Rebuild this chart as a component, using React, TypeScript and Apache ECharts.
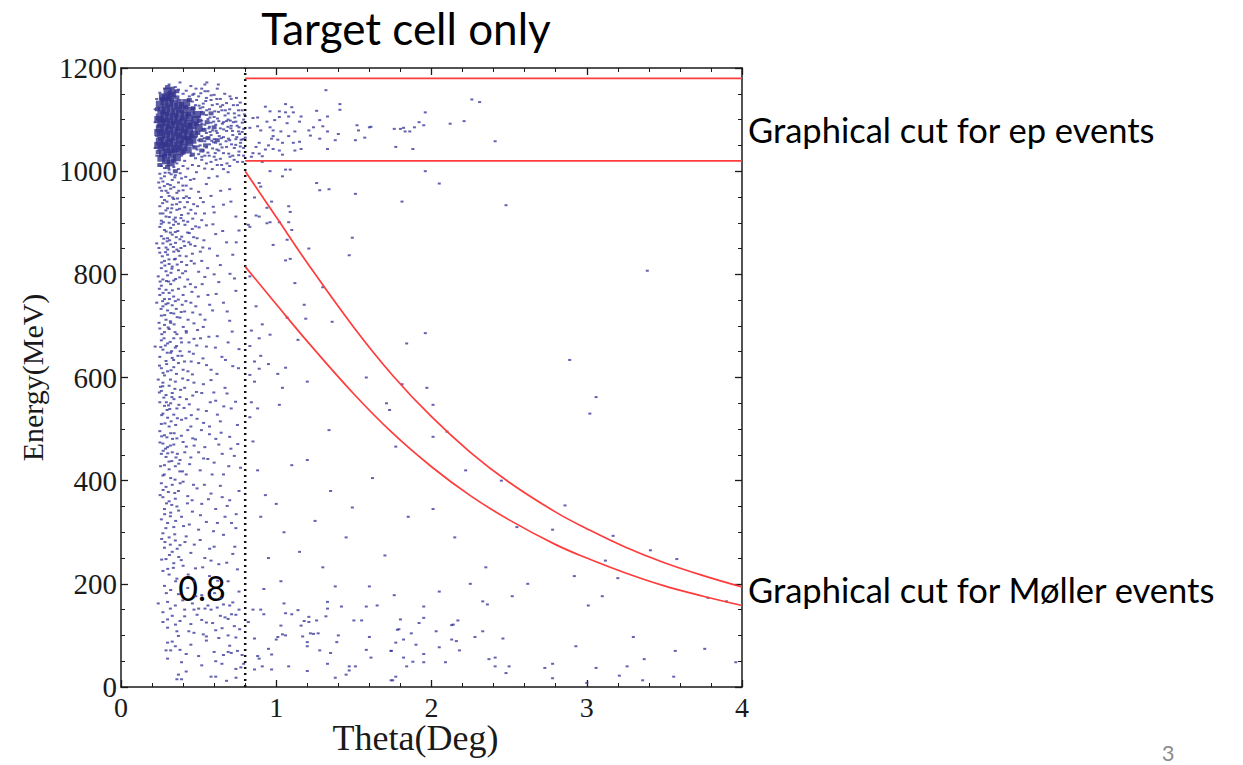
import React, { useEffect, useRef } from "react";
import * as echarts from "echarts";

// ---- data ----
const thetaCut = 0.8;
const epCutLow = 1020;
const epCutHigh = 1180;
const cutTheta = [0.8, 1.0, 1.2, 1.5, 1.75, 2.0, 2.25, 2.5, 2.8, 3.0, 3.25, 3.5, 3.75, 4.0];
const mollerUpper = [1000, 911, 822, 697, 604, 524, 455, 397, 339, 307, 271, 241, 216, 194];
const mollerLower = [815, 742, 670, 568, 492, 427, 371, 324, 276, 250, 221, 196, 176, 158];

const coreCluster: number[][] = [
  [0.25,1130],[0.28,1135],[0.31,1128],[0.34,1132],[0.37,1126],[0.40,1120],[0.26,1118],[0.29,1122],[0.32,1115],[0.35,1119],[0.38,1112],[0.41,1108],[0.44,1104],
  [0.25,1105],[0.28,1108],[0.31,1102],[0.34,1106],[0.37,1099],[0.40,1095],[0.43,1092],[0.46,1088],[0.26,1094],[0.29,1096],[0.32,1090],[0.35,1093],[0.38,1086],
  [0.41,1082],[0.44,1079],[0.25,1082],[0.28,1084],[0.31,1078],[0.34,1080],[0.37,1074],[0.40,1070],[0.43,1067],[0.47,1072],[0.26,1070],[0.29,1072],[0.32,1066],
  [0.35,1068],[0.38,1062],[0.41,1058],[0.44,1055],[0.25,1058],[0.28,1060],[0.31,1054],[0.34,1056],[0.37,1050],[0.40,1046],[0.26,1046],[0.29,1048],[0.32,1042],
  [0.35,1044],[0.38,1038],[0.27,1034],[0.30,1036],[0.33,1031],[0.36,1026],[0.29,1142],[0.32,1147],[0.30,1155],[0.33,1150],[0.27,1144],[0.42,1133],[0.45,1118],
  [0.48,1100],[0.24,1100],[0.24,1075],[0.24,1050],[0.26,1025],[0.29,1020],[0.32,1016],[0.43,1041],[0.46,1060],[0.50,1085],[0.49,1110]
];

const coreFringe: number[][] = [
  [0.235,1120],[0.245,1088],[0.255,1062],[0.265,1140],[0.275,1098],[0.285,1052],[0.295,1112],[0.305,1086],[0.315,1060],[0.325,1138],[0.335,1094],[0.345,1040],
  [0.355,1108],[0.365,1082],[0.375,1136],[0.385,1056],[0.395,1102],[0.405,1078],[0.415,1124],[0.425,1064],[0.435,1110],[0.445,1090],[0.455,1068],[0.465,1122],
  [0.475,1046],[0.485,1092],[0.495,1074],[0.505,1098],[0.515,1060],[0.525,1112],[0.535,1080],[0.545,1050],[0.555,1095],[0.27,1115],[0.31,1140],[0.36,1143],
  [0.39,1130],[0.44,1138],[0.33,1160],[0.30,1163],[0.36,1155],[0.28,1030],[0.34,1020],[0.40,1036],[0.46,1032],[0.52,1040],[0.56,1064],[0.58,1112],[0.60,1085],
  [0.62,1060],[0.24,1037],[0.25,1012],[0.30,1008],[0.35,1000]
];

const haloCluster: number[][] = [
  [0.46,1135],[0.48,1128],[0.51,1122],[0.53,1131],[0.47,1112],[0.50,1106],[0.52,1115],[0.55,1109],[0.57,1120],[0.49,1094],[0.52,1098],[0.54,1090],[0.56,1101],
  [0.58,1094],[0.60,1105],[0.51,1078],[0.53,1082],[0.55,1074],[0.57,1086],[0.59,1079],[0.61,1090],[0.63,1097],[0.48,1066],[0.50,1060],[0.52,1068],[0.54,1058],
  [0.56,1065],[0.58,1070],[0.60,1062],[0.62,1074],[0.64,1083],[0.47,1048],[0.49,1042],[0.51,1050],[0.53,1040],[0.55,1046],[0.57,1052],[0.59,1044],[0.61,1055],
  [0.45,1030],[0.48,1025],[0.50,1033],[0.52,1022],[0.54,1030],[0.56,1036],[0.44,1145],[0.40,1150],[0.37,1158],[0.35,1163],[0.31,1168],[0.28,1160],[0.25,1152],
  [0.23,1140],[0.22,1120],[0.22,1095],[0.23,1068],[0.22,1045],[0.23,1030],[0.42,1156],[0.47,1150],[0.50,1145],[0.55,1142],[0.58,1138],[0.62,1130],[0.65,1118],
  [0.67,1108],[0.66,1095],[0.69,1100],[0.71,1088],[0.68,1078],[0.72,1070],[0.66,1066],[0.70,1060],[0.64,1052],[0.68,1047],[0.63,1040],[0.66,1035],[0.60,1028],
  [0.64,1024],[0.58,1018],[0.62,1012],[0.55,1015],[0.50,1010],[0.46,1012],[0.43,1005],[0.40,1010],[0.37,1004],[0.34,1008],[0.31,1003],[0.28,1006],[0.26,1010],
  [0.74,1096],[0.76,1085],[0.78,1076],[0.74,1062],[0.77,1055],[0.73,1045],[0.76,1038],[0.79,1030],[0.72,1030],[0.70,1120],[0.73,1112],[0.76,1108],[0.78,1118],
  [0.68,1132],[0.64,1140],[0.60,1148],[0.56,1155],[0.52,1160],[0.45,1165],[0.38,1172],[0.54,1168],[0.62,1160],[0.71,1140],[0.75,1128],[0.79,1100],[0.80,1065],
  [0.75,1018],[0.70,1010],[0.66,1004],[0.79,1045],[0.43,1124],[0.46,1097],[0.45,1076],[0.42,1047],[0.39,1030],[0.41,1020],[0.36,1015],[0.33,1022],[0.30,1027],
  [0.462,1148],[0.487,1138],[0.514,1151],[0.527,1124],[0.546,1136],[0.573,1104],[0.588,1128],[0.604,1116],[0.622,1102],[0.641,1125],[0.653,1092],[0.672,1118],
  [0.689,1086],[0.704,1098],[0.718,1078],[0.733,1104],[0.748,1088],[0.764,1072],[0.781,1094],[0.574,1076],[0.596,1056],[0.618,1042],[0.633,1068],[0.651,1046],
  [0.677,1058],[0.694,1034],[0.712,1052],[0.729,1022],[0.746,1066],[0.768,1048],[0.784,1018],[0.612,1022],[0.683,1015],[0.539,1005],[0.588,1004],[0.627,1168],
  [0.553,1172],[0.483,1160],[0.668,1150],[0.702,1145],[0.744,1142],[0.768,1133],
  [0.503,1127],[0.521,1092],[0.537,1064],[0.552,1118],[0.566,1083],[0.584,1059],[0.597,1096],[0.613,1078],[0.628,1115],[0.646,1064],[0.661,1081],[0.679,1097],
  [0.692,1063],[0.708,1083],[0.724,1095],[0.739,1051],[0.757,1077],[0.774,1061],[0.791,1082],[0.521,1028],[0.568,1030],[0.607,1035],[0.648,1012],[0.702,1028],
  [0.758,1031],[0.497,1048],[0.541,1155],[0.581,1147],[0.617,1140],[0.655,1128],[0.691,1112],[0.724,1128],[0.757,1118],[0.787,1062],[0.796,1110]
];

const bandPoints: number[][] = [
  [0.25,995],[0.28,990],[0.31,997],[0.35,992],[0.39,986],[0.27,980],[0.30,975],[0.33,983],[0.37,978],[0.42,972],[0.25,968],[0.29,962],[0.32,966],[0.36,958],
  [0.40,963],[0.26,950],[0.28,944],[0.31,952],[0.34,946],[0.38,940],[0.44,948],[0.25,932],[0.30,928],[0.33,935],[0.36,925],[0.41,930],[0.27,918],[0.29,912],
  [0.32,920],[0.35,910],[0.39,915],[0.26,904],[0.31,900],[0.34,906],[0.37,898],[0.43,902],[0.47,985],[0.50,960],[0.53,940],[0.48,918],[0.55,975],[0.58,952],
  [0.62,990],[0.66,935],[0.70,965],[0.74,912],[0.60,920],[0.52,905],[0.45,925],[0.69,998],
  [0.25,892],[0.28,886],[0.32,890],[0.35,882],[0.26,874],[0.30,870],[0.33,877],[0.38,868],[0.27,860],[0.29,852],[0.32,858],[0.36,848],[0.41,855],[0.25,842],
  [0.30,838],[0.34,844],[0.28,826],[0.31,820],[0.35,830],[0.39,824],[0.26,812],[0.29,806],[0.33,815],[0.37,808],[0.44,880],[0.46,840],[0.49,870],[0.52,826],
  [0.55,895],[0.57,850],[0.61,878],[0.64,818],[0.68,862],[0.72,838],[0.76,885],[0.50,805],[0.42,835],[0.23,860],
  [0.24,796],[0.27,790],[0.30,798],[0.34,788],[0.26,778],[0.29,770],[0.32,781],[0.37,772],[0.25,760],[0.28,752],[0.31,764],[0.35,748],[0.40,760],[0.27,738],
  [0.30,730],[0.33,740],[0.26,720],[0.29,712],[0.34,724],[0.38,716],[0.28,702],[0.32,706],[0.43,790],[0.45,745],[0.48,775],[0.51,722],[0.54,795],[0.56,760],
  [0.59,730],[0.63,785],[0.66,745],[0.70,710],[0.74,768],[0.47,705],[0.41,728],[0.23,745],[0.60,800],
  [0.25,695],[0.28,688],[0.31,694],[0.36,684],[0.26,672],[0.30,666],[0.34,676],[0.39,668],[0.27,654],[0.32,648],[0.35,658],[0.25,640],[0.29,632],[0.33,638],
  [0.37,628],[0.26,618],[0.30,612],[0.34,620],[0.28,604],[0.42,690],[0.44,650],[0.47,675],[0.50,628],[0.53,698],[0.55,660],[0.58,615],[0.62,680],[0.65,640],
  [0.69,668],[0.72,622],[0.76,655],[0.46,606],[0.40,615],[0.22,660],
  [0.24,596],[0.27,590],[0.31,584],[0.35,592],[0.26,574],[0.29,566],[0.33,570],[0.38,562],[0.25,552],[0.28,545],[0.32,550],[0.36,540],[0.27,530],[0.30,522],
  [0.34,528],[0.26,510],[0.31,505],[0.41,580],[0.44,548],[0.47,590],[0.49,520],[0.52,570],[0.55,535],[0.58,595],[0.61,555],[0.64,515],[0.67,580],[0.71,540],
  [0.75,508],[0.45,505],[0.39,518],[0.57,505],
  [0.25,496],[0.28,488],[0.32,492],[0.36,482],[0.27,472],[0.30,465],[0.34,470],[0.26,452],[0.29,446],[0.33,455],[0.38,440],[0.28,430],[0.31,422],[0.35,428],
  [0.27,410],[0.32,405],[0.40,475],[0.43,498],[0.45,445],[0.48,480],[0.51,420],[0.54,465],[0.57,490],[0.60,435],[0.63,470],[0.66,412],[0.70,485],[0.73,448],
  [0.77,425],[0.42,412],[0.50,455],
  [0.26,395],[0.29,388],[0.33,392],[0.37,380],[0.27,368],[0.31,360],[0.35,365],[0.28,345],[0.32,338],[0.36,350],[0.26,325],[0.30,318],[0.34,310],[0.40,398],
  [0.43,370],[0.46,340],[0.49,385],[0.52,355],[0.55,320],[0.58,375],[0.61,345],[0.64,390],[0.67,330],[0.70,362],[0.74,308],[0.76,380],[0.44,315],[0.39,330],
  [0.50,305],
  [0.27,298],[0.31,290],[0.35,284],[0.28,270],[0.33,262],[0.38,275],[0.29,248],[0.34,240],[0.27,225],[0.31,218],[0.36,210],[0.42,292],[0.45,260],[0.48,230],
  [0.51,285],[0.54,250],[0.57,215],[0.60,272],[0.63,238],[0.66,295],[0.69,205],[0.72,258],[0.75,228],[0.40,235],[0.47,205],[0.58,245],
  [0.28,196],[0.32,188],[0.37,180],[0.30,165],[0.35,158],[0.27,145],[0.33,138],[0.38,128],[0.30,115],[0.36,108],[0.43,192],[0.46,162],[0.49,140],[0.52,178],
  [0.55,125],[0.58,150],[0.61,110],[0.64,172],[0.67,135],[0.70,158],[0.73,118],[0.76,185],[0.41,150],[0.53,102],[0.45,122],
  [0.24,162],[0.30,131],[0.27,126],[0.37,99],[0.30,86],[0.29,71],[0.32,71],[0.35,79],[0.42,64],[0.37,24],[0.39,15],[0.61,20],[0.41,137],[0.47,150],
  [0.50,152],[0.56,158],[0.62,154],[0.66,160],[0.72,164],[0.76,150],[0.52,130],[0.59,124],[0.64,138],[0.69,132],[0.74,140],[0.55,98],[0.63,95],[0.69,100],
  [0.74,96],[0.66,62],[0.71,66],[0.75,70],[0.69,68],
  [0.33,88],[0.38,72],[0.30,55],[0.45,82],[0.50,60],[0.55,90],[0.60,68],[0.65,45],[0.70,80],[0.74,35],[0.78,62],[0.42,30],[0.58,20],[0.36,15],[0.68,12]
];

const bandExtra: number[][] = [
  [0.243,978],[0.262,962],[0.284,997],[0.296,941],[0.318,973],[0.327,928],[0.346,988],[0.358,936],[0.372,962],[0.386,909],[0.404,948],[0.417,989],[0.433,918],
  [0.451,966],[0.468,936],[0.486,998],[0.512,948],[0.538,918],[0.566,987],[0.594,931],[0.642,962],[0.708,941],[0.253,918],[0.273,901],[0.291,883],[0.313,866],
  [0.338,896],[0.351,861],[0.366,884],[0.391,873],[0.412,896],[0.437,862],[0.459,888],[0.477,855],[0.503,891],[0.534,866],[0.592,897],[0.655,884],[0.742,862],
  [0.244,851],[0.266,835],[0.283,817],[0.301,848],[0.322,803],[0.344,829],[0.371,845],[0.397,802],[0.423,818],[0.448,858],[0.472,821],[0.511,844],[0.558,812],
  [0.621,836],[0.702,801],
  [0.252,786],[0.271,764],[0.289,742],[0.307,786],[0.321,725],[0.339,757],[0.356,733],[0.378,794],[0.394,741],[0.411,776],[0.432,712],[0.457,766],[0.482,738],
  [0.523,781],[0.571,741],[0.613,762],[0.684,728],[0.731,792],[0.245,706],[0.263,684],[0.286,662],[0.304,697],[0.326,651],[0.348,688],[0.367,642],[0.386,676],
  [0.409,631],[0.438,668],[0.466,646],[0.493,692],[0.528,637],[0.566,679],[0.608,658],[0.673,634],[0.716,689],[0.757,618],
  [0.254,582],[0.276,561],[0.297,537],[0.319,596],[0.341,558],[0.363,521],[0.384,576],[0.406,541],[0.431,595],[0.462,565],[0.497,538],[0.531,587],[0.575,552],
  [0.621,528],[0.683,569],[0.738,553],[0.262,486],[0.287,462],[0.309,437],[0.332,481],[0.354,445],[0.379,418],[0.411,455],[0.442,432],[0.471,468],[0.518,498],
  [0.559,442],[0.611,481],[0.652,452],[0.694,428],[0.752,471],[0.271,382],[0.293,356],[0.318,331],[0.346,376],[0.371,342],[0.403,312],[0.428,356],[0.467,392],
  [0.512,333],[0.563,364],[0.621,318],[0.684,351],[0.742,335],
  [0.283,281],[0.312,256],[0.337,231],[0.362,268],[0.388,246],[0.433,218],[0.472,276],[0.526,232],[0.571,268],[0.623,206],[0.681,241],[0.733,272],[0.292,182],
  [0.318,152],[0.351,121],[0.398,168],[0.437,108],[0.482,176],[0.541,152],[0.603,182],[0.651,114],[0.712,141],[0.764,112],[0.772,38],[0.741,18],[0.52,42],
  [0.61,50],[0.47,105],[0.39,48],
  [0.258,986],[0.279,971],[0.302,958],[0.323,994],[0.341,969],[0.364,947],[0.381,996],[0.398,972],[0.421,951],[0.447,983],[0.268,938],[0.289,924],[0.311,911],
  [0.333,949],[0.352,902],[0.377,927],[0.402,904],[0.428,940],[0.462,908],[0.493,932],
  [0.259,898],[0.276,869],[0.297,864],[0.318,881],[0.337,853],[0.356,872],[0.379,836],[0.404,864],[0.429,881],[0.452,826],[0.481,893],[0.262,823],[0.287,843],
  [0.309,829],[0.328,811],[0.362,819],[0.386,851],[0.416,806],[0.468,872],[0.527,852],
  [0.247,772],[0.268,748],[0.293,787],[0.312,752],[0.331,769],[0.352,791],[0.369,751],[0.388,727],[0.418,748],[0.447,781],[0.258,733],[0.281,721],[0.303,744],
  [0.318,709],[0.342,703],[0.362,717],[0.401,698],[0.462,726],[0.498,757],[0.541,712],
  [0.256,659],[0.277,676],[0.298,648],[0.317,669],[0.339,634],[0.358,661],[0.381,651],[0.421,687],[0.452,631],[0.488,662],[0.248,623],[0.271,609],[0.294,626],
  [0.322,614],[0.357,607],[0.392,642],[0.431,612],[0.512,676],[0.551,624],[0.618,607],
  [0.247,571],[0.269,583],[0.292,552],[0.314,539],[0.328,562],[0.347,578],[0.373,547],[0.397,598],[0.422,558],[0.453,527],[0.262,527],[0.283,511],[0.306,546],
  [0.323,515],[0.352,508],[0.418,521],[0.486,572],[0.532,512],[0.598,571],[0.662,544],
  [0.251,474],[0.272,458],[0.296,484],[0.318,468],[0.342,492],[0.363,452],[0.389,487],[0.421,466],[0.255,428],[0.279,412],[0.301,453],[0.327,438],[0.348,402],
  [0.372,433],[0.396,418],[0.462,482],[0.532,443],[0.587,412],[0.645,493],[0.708,462],
  [0.252,372],[0.281,335],[0.305,378],[0.327,353],[0.352,322],[0.381,395],[0.262,287],[0.289,308],[0.318,276],[0.346,296],[0.372,252],[0.412,281],[0.458,362],
  [0.537,392],[0.596,302],[0.652,368],[0.712,318],[0.262,247],[0.301,229],[0.352,205]
];

const sparsePoints: number[][] = [
  [1.32,1157],[2.26,1139],[2.31,1134],[1.41,1130],[1.06,1130],[1.10,1124],[1.26,1117],[1.41,1119],[1.96,1114],[0.93,1125],[0.96,1116],[1.02,1116],[1.06,1114],
  [1.11,1114],[1.16,1106],[1.33,1106],[1.28,1099],[1.08,1106],[1.02,1105],[0.99,1099],[1.15,1096],[1.07,1093],[0.94,1096],[0.88,1104],[0.85,1103],[2.21,1097],
  [2.12,1092],[1.92,1095],[1.95,1089],[1.52,1089],[1.60,1085],[1.61,1086],[1.30,1087],[1.24,1085],[1.76,1082],[1.80,1082],[1.82,1084],[1.89,1085],[1.83,1077],
  [1.86,1077],[1.53,1079],[1.33,1077],[1.21,1079],[1.12,1077],[1.03,1077],[0.98,1079],[0.96,1085],[0.90,1079],[0.88,1087],[0.83,1084],[1.22,1069],[1.08,1068],
  [1.01,1061],[0.98,1068],[0.97,1063],[1.04,1055],[1.28,1063],[1.38,1060],[1.51,1060],[1.57,1065],[1.40,1072],[1.15,1057],[1.11,1055],[0.89,1055],[0.95,1050],
  [0.87,1047],[0.93,1042],[0.98,1043],[1.02,1040],[1.12,1040],[1.16,1043],[1.33,1043],[1.77,1047],[1.88,1043],[1.04,1032],[0.89,1034],[0.91,1029],[0.85,1035],
  [0.84,1028],[0.91,1018],
  [0.96,1000],[1.06,1003],[1.09,1003],[1.04,990],[1.96,1000],[2.05,976],[1.26,977],[1.34,965],[1.28,963],[1.51,956],[1.81,941],[0.97,941],[1.08,932],[1.09,921],
  [0.94,929],[0.89,977],[0.90,970],[0.86,949],[0.87,914],[0.89,912],[2.41,1058],[2.48,934],
  [0.94,899],[0.96,901],[1.02,901],[1.08,901],[1.10,886],[0.83,892],[0.82,896],[1.49,871],[1.07,867],[0.98,857],[1.21,850],[1.47,837],[1.09,830],[1.06,827],
  [0.83,796],[1.12,783],[1.30,775],[0.87,738],[1.18,741],[1.07,716],[1.19,714],[1.36,708],[0.91,703],[0.84,691],[0.96,683],[0.89,676],[1.14,673],[1.96,686],
  [1.84,666],[0.83,661],[0.90,642],[0.86,631],[0.95,626],[1.06,619],[0.89,617],[0.83,605],[1.01,607],[1.58,600],[0.86,592],[1.20,592],[1.81,587],[1.04,580],
  [1.97,580],[0.84,552],[1.02,547],[1.71,550],[2.01,547],[0.88,540],[1.73,537],[0.83,523],[1.34,498],[2.10,495],[2.01,485],[0.85,476],[1.77,466],
  [3.39,807],[2.89,634],[3.06,562],[3.02,530],
  [3.17,293],[3.41,265],[3.58,248],[3.12,245],[3.20,211],[3.10,176],[3.78,173],[3.90,166],
  [1.95,156],[2.33,166],[2.36,160],[3.01,158],[1.80,131],[1.95,134],[1.92,124],[2.17,129],[2.13,120],[2.14,121],[2.03,108],[2.33,108],[1.79,112],[1.87,104],
  [1.77,86],[1.82,92],[1.90,82],[2.13,92],[2.16,89],[2.05,77],[2.28,97],[2.46,94],[3.30,97],[2.93,79],[1.74,70],[1.95,64],[2.18,71],[3.57,70],[3.76,74],
  [1.82,57],[1.88,49],[1.95,48],[2.09,48],[2.37,54],[2.41,57],[3.37,54],[3.96,48],[1.84,40],[2.41,40],[2.50,40],[2.78,45],[2.73,37],[3.06,37],[3.26,40],
  [2.48,27],[3.21,22],[3.56,20],[1.77,20],[1.74,13],[2.78,17],[3.36,13],[3.00,8],
  [0.82,126],[0.79,45],[0.85,150],[0.90,150],[0.92,141],[0.86,94],[0.88,60],[0.89,55],[0.91,40],[0.86,34],[0.97,34],[0.97,63],[0.95,74],[1.00,92],[1.06,100],
  [1.04,102],[1.01,97],[1.03,119],[1.05,162],[1.06,143],[1.10,141],[1.14,149],[1.18,128],[1.16,119],[1.17,98],[1.22,104],[1.20,87],[1.20,79],[1.24,103],
  [1.27,104],[1.28,71],[1.21,126],[1.21,136],[1.26,129],[1.32,137],[1.33,152],[1.33,165],[1.42,156],[1.40,100],[1.39,87],[1.35,66],[1.33,45],[1.38,18],
  [1.47,40],[1.51,40],[1.45,24],[1.47,32],[1.50,129],[1.55,129],[1.58,156],[1.65,158],[1.60,97],[1.58,72],[1.61,57],[1.78,111],[1.74,70],[1.75,13],[1.20,31],
  [1.08,40],
  [1.49,348],[1.62,405],[1.35,380],[1.20,440],[1.10,430],[1.05,300],[1.15,262],[1.30,232],[1.45,290],[1.70,255],[1.85,330],[2.01,345],[2.15,290],[2.35,232],
  [2.55,310],[2.62,200],[2.45,400],[2.22,420],[2.78,305],[2.92,215],[1.00,355],[0.95,250],[0.90,330],[0.88,420],[0.92,190],[1.25,322],[1.60,195],[2.05,185],
  [2.52,176],[2.86,352],[0.93,372],[1.03,205],[1.38,195],[1.76,178],[2.25,200]
];

const serif = "'Liberation Serif', 'DejaVu Serif', serif";
const sans = "Lato, 'Open Sans', sans-serif";
const ink = "#1a1a1a";
const dotColor = "#3b3b9c";
const coreColor = "#33338c";
const cutColor = "#ff3c3c";

function frameAxis(extra: any) {
  return {
    type: "value",
    axisLine: { show: true, onZero: false, lineStyle: { color: ink, width: 1.5 } },
    axisTick: { show: true, inside: true, length: 7, lineStyle: { color: ink, width: 1.3 } },
    splitLine: { show: false },
    minorSplitLine: { show: false },
    ...extra,
  };
}

export default function App() {
  const ref = useRef<HTMLDivElement>(null);
  useEffect(() => {
    const chart = echarts.init(ref.current!, null, { renderer: "svg" });
    const xBase = { min: 0, max: 4, interval: 1 };
    const yBase = { min: 0, max: 1200, interval: 200 };
    const plain = (v: number) => String(v);
    const option: any = {
      animation: false,
      backgroundColor: "#ffffff",
      grid: { left: 121, right: 501, top: 68, bottom: 78 },
      xAxis: [
        frameAxis({
          ...xBase,
          position: "bottom",
          minorTick: { show: true, splitNumber: 5, length: 4, lineStyle: { color: ink, width: 1 } },
          axisLabel: { fontFamily: serif, fontSize: 28, color: ink, margin: 6, formatter: plain },
          name: "Theta(Deg)",
          nameLocation: "middle",
          nameGap: 33,
          nameMoveOverlap: false,
          nameTextStyle: { fontFamily: serif, fontSize: 36, color: ink, padding: [0, 32, 0, 0], verticalAlign: "top" },
        }),
        frameAxis({
          ...xBase,
          position: "top",
          minorTick: { show: true, splitNumber: 5, length: 4, lineStyle: { color: ink, width: 1 } },
          axisLabel: { show: false },
        }),
      ],
      yAxis: [
        frameAxis({
          ...yBase,
          position: "left",
          minorTick: { show: true, splitNumber: 4, length: 4, lineStyle: { color: ink, width: 1 } },
          axisLabel: { fontFamily: serif, fontSize: 29, color: ink, margin: 4, formatter: plain },
          name: "Energy(MeV)",
          nameLocation: "middle",
          nameGap: 74,
          nameMoveOverlap: false,
          nameTextStyle: { fontFamily: serif, fontSize: 30, color: ink },
        }),
        frameAxis({
          ...yBase,
          position: "right",
          minorTick: { show: true, splitNumber: 4, length: 4, lineStyle: { color: ink, width: 1 } },
          axisLabel: { show: false },
        }),
      ],
      series: [
        {
          type: "scatter",
          data: coreCluster,
          symbol: "rect",
          symbolSize: [8, 7],
          itemStyle: { color: coreColor },
          silent: true,
        },
        {
          type: "scatter",
          data: coreFringe,
          symbol: "rect",
          symbolSize: [5, 4],
          itemStyle: { color: coreColor },
          silent: true,
        },
        {
          type: "scatter",
          data: [...haloCluster, ...bandPoints, ...bandExtra, ...sparsePoints],
          symbol: "rect",
          symbolSize: [3, 2],
          itemStyle: { color: dotColor },
          silent: true,
        },
        {
          type: "line",
          data: [[thetaCut, 0], [thetaCut, 1200]],
          showSymbol: false,
          lineStyle: { color: "#111", width: 2.5, type: [2, 4] },
          silent: true,
        },
        {
          type: "line",
          data: [[thetaCut, epCutHigh], [4, epCutHigh]],
          showSymbol: false,
          lineStyle: { color: cutColor, width: 1.7 },
          silent: true,
        },
        {
          type: "line",
          data: [[thetaCut, epCutLow], [4, epCutLow]],
          showSymbol: false,
          lineStyle: { color: cutColor, width: 1.7 },
          silent: true,
        },
        {
          type: "line",
          data: cutTheta.map((t, i) => [t, mollerUpper[i]]),
          showSymbol: false,
          smooth: 0.4,
          lineStyle: { color: cutColor, width: 1.7 },
          silent: true,
        },
        {
          type: "line",
          data: cutTheta.map((t, i) => [t, mollerLower[i]]),
          showSymbol: false,
          smooth: 0.4,
          lineStyle: { color: cutColor, width: 1.7 },
          silent: true,
        },
      ],
      graphic: [
        {
          type: "text",
          x: 406,
          y: 28,
          style: { text: "Target cell only", fontFamily: sans, fontSize: 44, fill: "#000", align: "center", verticalAlign: "middle" },
        },
        {
          type: "text",
          x: 748,
          y: 129,
          style: { text: "Graphical cut for ep events", fontFamily: sans, fontSize: 34.5, fill: "#000", align: "left", verticalAlign: "middle" },
        },
        {
          type: "text",
          x: 748,
          y: 589,
          style: { text: "Graphical cut for Møller events", fontFamily: sans, fontSize: 34.5, fill: "#000", align: "left", verticalAlign: "middle" },
        },
        {
          type: "text",
          x: 202,
          y: 587,
          style: { text: "0.8", fontFamily: sans, fontSize: 34, fill: "#000", align: "center", verticalAlign: "middle" },
        },
        {
          type: "text",
          x: 1168,
          y: 752,
          style: { text: "3", fontFamily: sans, fontSize: 22, fill: "#8c8c8c", align: "center", verticalAlign: "middle" },
        },
      ],
    };
    chart.setOption(option);
    return () => chart.dispose();
  }, []);
  return (
    <div
      ref={ref}
      style={{ position: "fixed", left: 0, top: 0, width: 1243, height: 765, background: "#fff" }}
    />
  );
}
